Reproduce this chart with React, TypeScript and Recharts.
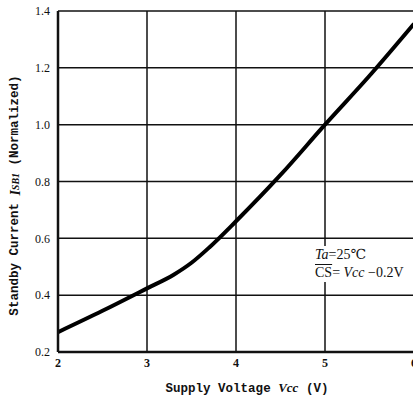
import React from "react";
import { LineChart, Line, XAxis, YAxis, CartesianGrid } from "recharts";

const vcc = [2, 2.5, 3, 3.3, 3.5, 3.7, 4, 4.5, 5, 5.5, 6];
const isb = [0.27, 0.345, 0.424, 0.472, 0.514, 0.568, 0.66, 0.823, 1.0, 1.172, 1.355];
const xTicks = [2, 3, 4, 5, 6];
const yTicks = [0.2, 0.4, 0.6, 0.8, 1.0, 1.2, 1.4];

const data = vcc.map((v, i) => ({ vcc: v, isb: isb[i] }));

const labelFont = "'Liberation Mono', 'DejaVu Sans Mono', monospace";
const numFont = "'Liberation Serif', 'DejaVu Serif', serif";

const YLabel = ({ viewBox }: any) => {
  const cy = viewBox.y + viewBox.height / 2 + 14;
  return (
    <text
      x={15}
      y={cy}
      transform={`rotate(-90, 15, ${cy})`}
      textAnchor="middle"
      dominantBaseline="central"
      fontFamily={labelFont}
      fontSize={12.5}
      fontWeight="bold"
      fill="#111"
    >
      Standby Current{" "}
      <tspan fontFamily={numFont} fontStyle="italic" fontSize={14}>I</tspan>
      <tspan fontFamily={numFont} fontStyle="italic" fontSize={10}>SB1</tspan>
      {" (Normalized)"}
    </text>
  );
};

const XLabel = () => (
  <text
    x={247}
    y={392}
    textAnchor="middle"
    fontFamily={labelFont}
    fontSize={12.5}
    fontWeight="bold"
    fill="#111"
  >
    Supply Voltage{" "}
    <tspan fontFamily={numFont} fontStyle="italic" fontSize={13}>Vcc</tspan>
    {" (V)"}
  </text>
);

export default function App() {
  return (
    <div style={{ position: "absolute", left: 0, top: 0, width: 413, height: 397, overflow: "hidden", background: "#fff" }}>
      <LineChart width={417} height={397} data={data} margin={{ top: 11, right: 3, left: 0, bottom: 15 }}>
        <CartesianGrid stroke="#111" strokeWidth={1.5} />
        <XAxis
          dataKey="vcc"
          type="number"
          domain={[2, 6]}
          ticks={xTicks}
          allowDataOverflow
          axisLine={{ stroke: "#111", strokeWidth: 2.5 }}
          tickLine={false}
          tickMargin={0}
          tick={{ fill: "#111", fontSize: 12, fontWeight: "bold", fontFamily: numFont }}
          height={30}
          label={<XLabel />}
        />
        <YAxis
          type="number"
          domain={[0.2, 1.4]}
          ticks={yTicks}
          allowDataOverflow
          width={58}
          axisLine={{ stroke: "#111", strokeWidth: 2.5 }}
          tickLine={false}
          tickFormatter={(v: number) => v.toFixed(1)}
          tick={{ fill: "#111", fontSize: 12, fontFamily: numFont }}
          label={<YLabel />}
        />
        <Line
          type="monotone"
          dataKey="isb"
          stroke="#000"
          strokeWidth={4}
          dot={false}
          isAnimationActive={false}
        />
      </LineChart>
      <div
        style={{
          position: "absolute",
          left: 315,
          top: 246,
          fontFamily: numFont,
          fontSize: 14,
          lineHeight: "18px",
          color: "#111",
          whiteSpace: "nowrap",
          background: "#fff",
        }}
      >
        <div><i>Ta</i>=25℃</div>
        <div><span style={{ textDecoration: "overline" }}>CS</span>= <i>Vcc</i> −0.2V</div>
      </div>
    </div>
  );
}
